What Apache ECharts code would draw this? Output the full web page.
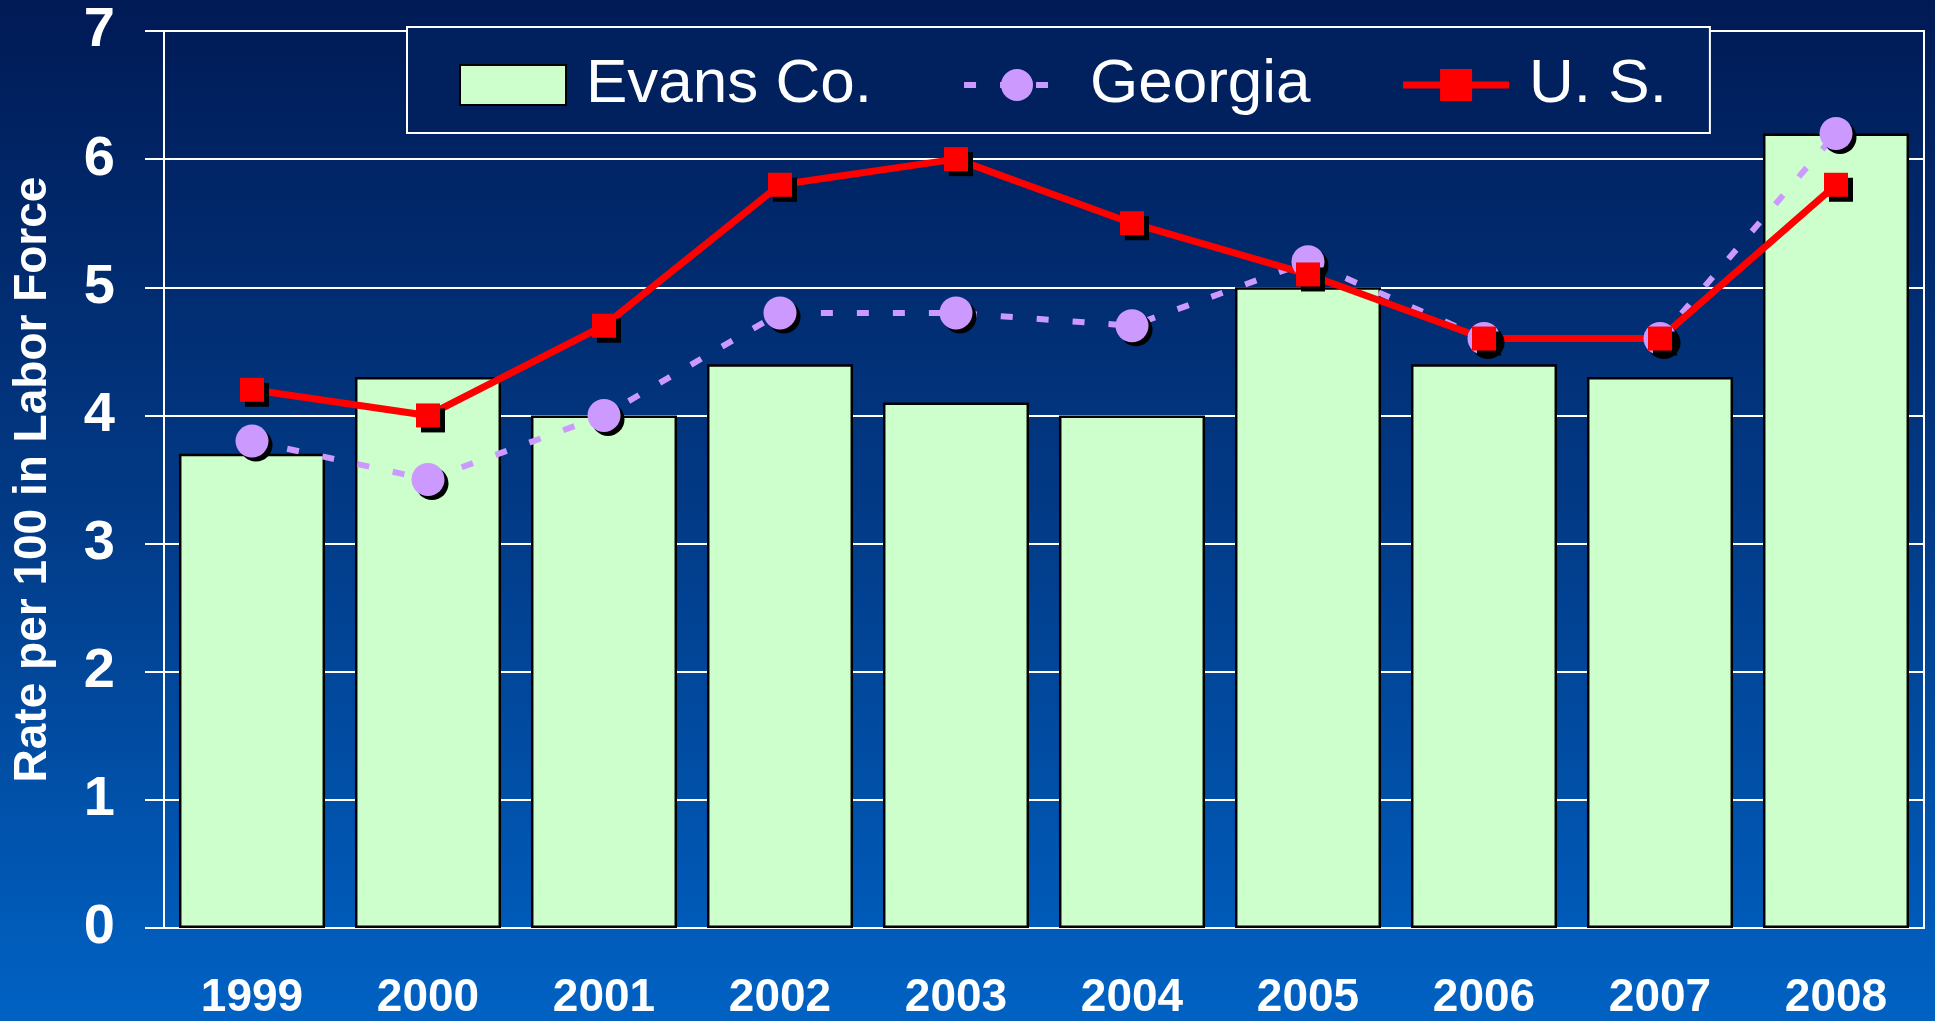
<!DOCTYPE html>
<html>
<head>
<meta charset="utf-8">
<script src="https://cdn.jsdelivr.net/npm/echarts@6/dist/echarts.min.js"></script>
<style>
  html, body { margin: 0; padding: 0; }
  #chart { width: 1935px; height: 1021px; }
</style>
</head>
<body>
<div id="chart"></div>
<script>
// 数据
const years = ['1999', '2000', '2001', '2002', '2003', '2004', '2005', '2006', '2007', '2008']
const evansValues = [3.7, 4.3, 4.0, 4.4, 4.1, 4.0, 5.0, 4.4, 4.3, 6.2]
const georgiaValues = [3.8, 3.5, 4.0, 4.8, 4.8, 4.7, 5.2, 4.6, 4.6, 6.2]
const usValues = [4.2, 4.0, 4.7, 5.8, 6.0, 5.5, 5.1, 4.6, 4.6, 5.8]
const yTicks = [0, 1, 2, 3, 4, 5, 6, 7]

const chartInstance = echarts.init(document.getElementById('chart'))
const boldFont = "'Liberation Sans', Arial, sans-serif"
const narrowFont = "'Liberation Sans Narrow', 'Arial Narrow', 'Liberation Sans', sans-serif"
const georgiaDash = [12, 24]

const option = {
  animation: false,
  backgroundColor: new echarts.graphic.LinearGradient(0, 0, 0, 1, [
    { offset: 0, color: '#001a55' },
    { offset: 0.5, color: '#023a86' },
    { offset: 1, color: '#0062c4' }
  ]),
  grid: {
    left: 164,
    right: 11,
    top: 31,
    bottom: 89,
    show: true,
    borderColor: '#ffffff',
    borderWidth: 2
  },
  legend: {
    left: 407,
    top: 27,
    padding: [27, 43, 17, 52],
    backgroundColor: '#01215e',
    borderColor: '#ffffff',
    borderWidth: 2,
    itemWidth: 106,
    itemHeight: 40,
    itemGap: 89,
    textStyle: {
      color: '#ffffff',
      fontFamily: narrowFont,
      fontSize: 62,
      lineHeight: 62,
      padding: [0, 0, 0, 15]
    },
    data: [
      { name: 'Evans Co.', icon: 'rect' },
      { name: 'Georgia', lineStyle: { width: 6, type: georgiaDash } },
      { name: 'U. S.', lineStyle: { width: 7 } }
    ]
  },
  xAxis: [
    {
      type: 'category',
      data: years,
      axisLine: { lineStyle: { color: '#ffffff', width: 2 } },
      axisTick: { length: 15, lineStyle: { color: '#ffffff', width: 2 } },
      axisLabel: {
        color: '#ffffff',
        fontFamily: boldFont,
        fontWeight: 'bold',
        fontSize: 46,
        margin: 47
      }
    },
    {
      // 轴线上方的刻度
      type: 'category',
      data: years,
      position: 'bottom',
      axisLine: { show: false },
      axisTick: { inside: true, length: 15, lineStyle: { color: '#ffffff', width: 2 } },
      axisLabel: { show: false }
    }
  ],
  yAxis: {
    type: 'value',
    min: yTicks[0],
    max: yTicks[yTicks.length - 1],
    interval: 1,
    name: 'Rate per 100 in Labor Force',
    nameLocation: 'middle',
    nameGap: 108,
    nameTextStyle: {
      color: '#ffffff',
      fontFamily: boldFont,
      fontWeight: 'bold',
      fontSize: 46
    },
    axisLine: { show: true, lineStyle: { color: '#ffffff', width: 2 } },
    axisTick: { show: true, length: 19, lineStyle: { color: '#ffffff', width: 2 } },
    axisLabel: {
      color: '#ffffff',
      fontFamily: boldFont,
      fontWeight: 'bold',
      fontSize: 56,
      margin: 49
    },
    splitLine: { lineStyle: { color: '#ffffff', width: 2 } }
  },
  series: [
    {
      name: 'Evans Co.',
      type: 'bar',
      data: evansValues,
      barWidth: '83%',
      itemStyle: {
        color: '#ccffcc',
        borderColor: '#000000',
        borderWidth: 2.5
      }
    },
    {
      name: 'Georgia',
      type: 'line',
      data: georgiaValues,
      symbol: 'circle',
      symbolSize: 33,
      lineStyle: { color: '#cc99ff', width: 6, type: georgiaDash },
      itemStyle: {
        color: '#cc99ff',
        shadowColor: '#000000',
        shadowOffsetX: 4,
        shadowOffsetY: 4
      }
    },
    {
      name: 'U. S.',
      type: 'line',
      data: usValues,
      symbol: 'rect',
      symbolSize: 24,
      lineStyle: { color: '#ff0000', width: 7 },
      itemStyle: {
        color: '#ff0000',
        shadowColor: '#000000',
        shadowOffsetX: 5,
        shadowOffsetY: 5
      }
    }
  ]
}
chartInstance.setOption(option)
</script>
</body>
</html>
